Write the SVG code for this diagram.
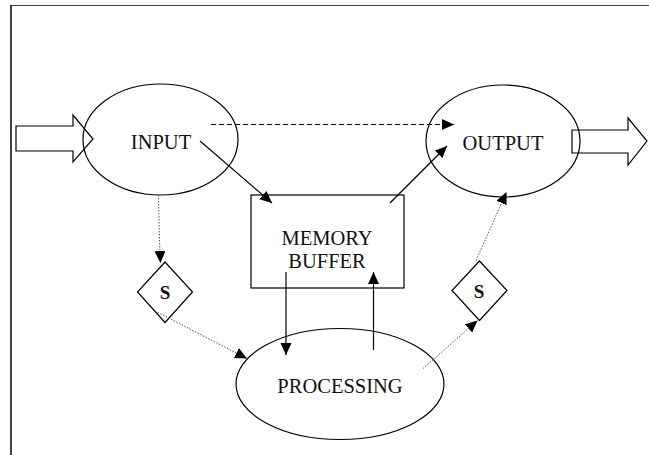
<svg xmlns="http://www.w3.org/2000/svg" width="649" height="455" viewBox="0 0 649 455">
<style>
.shape{fill:none;stroke:#000;stroke-width:1.2}
.blk{fill:#fff;stroke:#000;stroke-width:1.2}
.lbl{font-family:"Liberation Serif","Times New Roman",serif;font-size:20.5px;fill:#111;text-anchor:middle}
.s{font-family:"Liberation Serif","Times New Roman",serif;font-size:19px;font-weight:bold;fill:#111;text-anchor:middle}
.solid{fill:none;stroke:#000;stroke-width:1.2}
.dash{fill:none;stroke:#000;stroke-width:1.2;stroke-dasharray:5,3}
.dot{fill:none;stroke:#555;stroke-width:1;stroke-dasharray:1.5,1.5}
</style>
<defs>
<marker id="ah" markerUnits="userSpaceOnUse" markerWidth="13" markerHeight="12" refX="12" refY="5.5" orient="auto">
<path d="M0,0 L12,5.5 L0,11 z" fill="#000"/>
</marker>
</defs>
<rect width="649" height="455" fill="#fff"/>
<g id="frame">
<line x1="10.5" y1="5.5" x2="649" y2="5.5" stroke="#444" stroke-width="1"/>
<line x1="11" y1="5" x2="11" y2="455" stroke="#000" stroke-width="1.5"/>
</g>
<g id="in-arrow"><polygon class="blk" points="16,126 73,126 73,115 93,139 73,162 73,151 16,151"/></g>
<g id="input">
<ellipse class="shape" cx="160.5" cy="139.5" rx="77.5" ry="55.5"/>
<text class="lbl" x="161" y="149">INPUT</text>
</g>
<g id="out-arrow"><polygon class="blk" points="572,130 628,130 628,118 647,141 628,165 628,153 572,153"/></g>
<g id="output">
<ellipse class="shape" cx="503" cy="141" rx="77" ry="56"/>
<text class="lbl" x="503" y="150">OUTPUT</text>
</g>
<g id="memory">
<rect class="shape" x="251" y="195" width="153" height="93"/>
<text class="lbl" x="327" y="245">MEMORY</text>
<text class="lbl" x="327" y="268">BUFFER</text>
</g>
<g id="processing">
<ellipse class="shape" cx="340" cy="384" rx="104" ry="55.5"/>
<text class="lbl" x="340" y="393">PROCESSING</text>
</g>
<g id="sync-left">
<polygon class="shape" points="165,262 192.5,292 165,322.5 137.5,292"/>
<text class="s" x="165" y="299">S</text>
</g>
<g id="sync-right">
<polygon class="shape" points="479.5,261 507,290.5 479.5,320.5 452,290.5"/>
<text class="s" x="479" y="298">S</text>
</g>
<g id="connectors">
<line class="dash" x1="211" y1="124.5" x2="454" y2="124.5" marker-end="url(#ah)"/>
<line class="solid" x1="200" y1="141" x2="272" y2="203" marker-end="url(#ah)"/>
<line class="solid" x1="390" y1="203" x2="447" y2="146" marker-end="url(#ah)"/>
<line class="solid" x1="286" y1="272" x2="286" y2="355" marker-end="url(#ah)"/>
<line class="solid" x1="373.5" y1="350" x2="373.5" y2="272" marker-end="url(#ah)"/>
<polyline class="dot" points="158.5,195 159.5,240 160.5,263" marker-end="url(#ah)"/>
<line class="dot" x1="155" y1="311" x2="247" y2="358.5" marker-end="url(#ah)"/>
<line class="dot" x1="423" y1="368.5" x2="477.5" y2="320.5" marker-end="url(#ah)"/>
<line class="dot" x1="476" y1="260.5" x2="506.5" y2="192" marker-end="url(#ah)"/>
</g>
</svg>
